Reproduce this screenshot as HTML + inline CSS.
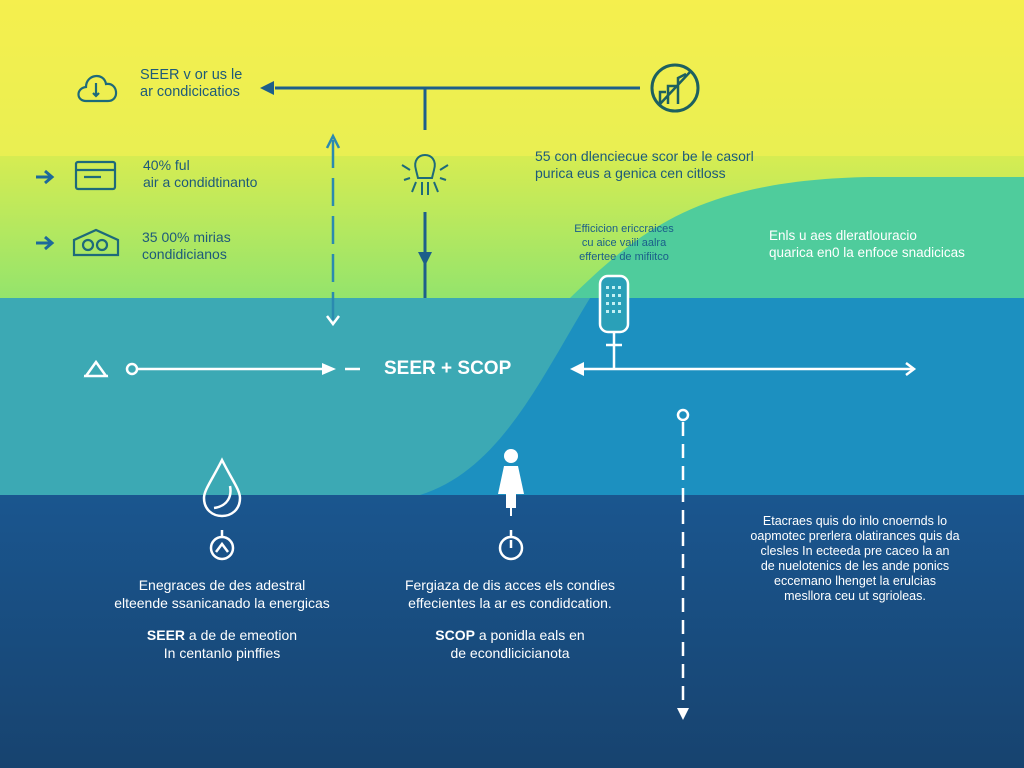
<!DOCTYPE html>
<html><head><meta charset="utf-8"><style>
body{margin:0;width:1024px;height:768px;overflow:hidden;font-family:"Liberation Sans",sans-serif;position:relative}
svg{position:absolute;left:0;top:0}
.t{position:absolute;font-size:14px;line-height:17px;white-space:nowrap}
.d{color:#1d5a7a}
.w{color:#fff}
.c{text-align:center}
</style></head><body>
<svg width="1024" height="768" viewBox="0 0 1024 768">
<defs>
<linearGradient id="g1" x1="0" y1="0" x2="0" y2="1"><stop offset="0" stop-color="#f5ef4e"/><stop offset="1" stop-color="#e9ef52"/></linearGradient>
<linearGradient id="g2" x1="0" y1="0" x2="0" y2="1"><stop offset="0" stop-color="#d6ec52"/><stop offset="1" stop-color="#94e46c"/></linearGradient>
<linearGradient id="g4" x1="0" y1="0" x2="0" y2="1"><stop offset="0" stop-color="#1a568f"/><stop offset="1" stop-color="#17436f"/></linearGradient>
</defs>
<rect width="1024" height="156" fill="url(#g1)"/>
<rect y="156" width="1024" height="142" fill="url(#g2)"/>
<path d="M570 298 C640 230 700 180 870 177 L1024 177 L1024 298 Z" fill="#4fcc9c"/>
<rect y="298" width="1024" height="197" fill="#1c90c0"/>
<path d="M0 298 L590 298 C540 380 500 470 420 495 L0 495 Z" fill="#3ca9b4"/>
<rect y="495" width="1024" height="273" fill="url(#g4)"/>
<!-- top connector -->
<g stroke="#1d5f8a" stroke-width="3" fill="none">
<line x1="275" y1="88" x2="640" y2="88"/>
<line x1="425" y1="88" x2="425" y2="130"/>
<line x1="425" y1="212" x2="425" y2="298"/>
</g>
<polygon points="260,88 274,81 274,95" fill="#1d5f8a"/>
<polygon points="418,252 432,252 425,266" fill="#1d5f8a"/>
<circle cx="675" cy="88" r="23" stroke="#1d6060" stroke-width="3" fill="none"/>
<path d="M660 104 L660 92 L666 92 M668 104 L668 86 L676 86 M678 104 L678 78 L686 74 M660 104 L690 72" stroke="#1d6060" stroke-width="2.5" fill="none"/>
<!-- dashed vertical -->
<line x1="333" y1="140" x2="333" y2="320" stroke="#2a8ab0" stroke-width="2.5" stroke-dasharray="28,10"/>
<polyline points="327,148 333,136 339,148" stroke="#2a8ab0" stroke-width="2.5" fill="none"/>
<polyline points="327,316 333,324 339,316" stroke="#fff" stroke-width="2.5" fill="none"/>
<!-- lamp icon -->
<g stroke="#1d6a7a" stroke-width="2" fill="none">
<path d="M416 170 C410 150 440 150 434 170 L432 178 L418 178Z"/>
<path d="M402 165 L410 170 M448 165 L440 170 M404 180 L410 178 M446 180 L440 178 M412 192 L416 182 M438 192 L434 182 M422 195 L422 182 M428 195 L428 182"/>
</g>
<!-- left icons -->
<g stroke="#1d6a7a" stroke-width="2.2" fill="none">
<path d="M86 101 C76 101 76 88 86 87 C86 74 104 72 106 84 C118 82 120 101 108 101Z"/>
<line x1="96" y1="83" x2="96" y2="96"/><polyline points="93,93 96,96 99,93"/>
<rect x="76" y="162" width="39" height="27" rx="2"/><line x1="76" y1="170" x2="115" y2="170"/><line x1="84" y1="177" x2="101" y2="177"/>
<path d="M74 255 L74 240 L96 230 L118 240 L118 255Z"/><circle cx="88" cy="245" r="5"/><circle cx="102" cy="245" r="5"/>
</g>
<g stroke="#1d6a9a" stroke-width="3" fill="none">
<path d="M36 177 L52 177 M45 171 L52 177 L45 183"/>
<path d="M36 243 L52 243 M45 237 L52 243 L45 249"/>
</g>
<!-- sensor -->
<rect x="600" y="276" width="28" height="56" rx="8" stroke="#fff" stroke-width="2.5" fill="#2aa0b8"/>
<g fill="#dff" opacity=".85"><rect x="606" y="286" width="3" height="3"/><rect x="612" y="286" width="3" height="3"/><rect x="618" y="286" width="3" height="3"/><rect x="606" y="294" width="3" height="3"/><rect x="612" y="294" width="3" height="3"/><rect x="618" y="294" width="3" height="3"/><rect x="606" y="302" width="3" height="3"/><rect x="612" y="302" width="3" height="3"/><rect x="618" y="302" width="3" height="3"/><rect x="606" y="310" width="3" height="3"/><rect x="612" y="310" width="3" height="3"/><rect x="618" y="310" width="3" height="3"/></g>
<g stroke="#fff" stroke-width="2.5" fill="none">
<line x1="614" y1="332" x2="614" y2="369"/><line x1="606" y1="345" x2="622" y2="345"/>
<line x1="574" y1="369" x2="914" y2="369"/>
<polyline points="906,363 914,369 906,375"/>
<line x1="138" y1="369" x2="325" y2="369"/><line x1="345" y1="369" x2="360" y2="369"/>
<circle cx="132" cy="369" r="5"/>
<path d="M86 376 L96 362 L106 376 Z M84 376 L108 376"/>
</g>
<polygon points="570,369 584,362 584,376" fill="#fff"/>
<polygon points="322,363 336,369 322,375" fill="#fff"/>
<!-- right dashed -->
<circle cx="683" cy="415" r="5" stroke="#fff" stroke-width="2.5" fill="none"/>
<line x1="683" y1="422" x2="683" y2="708" stroke="#fff" stroke-width="2.5" stroke-dasharray="14,8"/>
<polygon points="677,708 689,708 683,720" fill="#fff"/>
<!-- drop -->
<g stroke="#fff" stroke-width="2.5" fill="none">
<path d="M222 460 C212 480 204 490 204 498 C204 522 240 522 240 498 C240 490 232 480 222 460Z"/>
<path d="M214 508 C228 506 232 496 230 486"/>
<circle cx="222" cy="548" r="11"/><path d="M216 552 L222 544 L228 552"/><line x1="222" y1="530" x2="222" y2="537"/>
<circle cx="511" cy="548" r="11"/><line x1="511" y1="540" x2="511" y2="548"/><line x1="511" y1="530" x2="511" y2="537"/>
</g>
<circle cx="511" cy="456" r="7" fill="#fff"/>
<path d="M504 466 L518 466 L524 494 L516 494 L516 508 L506 508 L506 494 L498 494 Z" fill="#fff"/>
<line x1="511" y1="508" x2="511" y2="516" stroke="#fff" stroke-width="2"/>
</svg>
<div class="t d" style="left:140px;top:67px;font-size:14.5px">SEER v or us le<br>ar condicicatios</div>
<div class="t d" style="left:143px;top:157px">40% ful<br>air a condidtinanto</div>
<div class="t d" style="left:142px;top:229px">35 00% mirias<br>condidicianos</div>
<div class="t d" style="left:535px;top:148px">55 con dlenciecue scor be le casorl<br>purica eus a genica cen citloss</div>
<div class="t d c" style="left:560px;top:222px;font-size:11px;line-height:14px;width:128px;color:#1a5e8a">Efficicion ericcraices<br>cu aice vaili aalra<br>effertee de mifiitco</div>
<div class="t w" style="left:769px;top:227px;font-size:13.5px">Enls u aes dleratlouracio<br>quarica en0 la enfoce snadicicas</div>
<div class="t w" style="left:384px;top:358px;font-size:19px;font-weight:bold;line-height:22px">SEER + SCOP</div>
<div class="t w c" style="left:102px;top:576px;width:240px;line-height:18px">Enegraces de des adestral<br>elteende ssanicanado la energicas</div>
<div class="t w c" style="left:102px;top:626px;width:240px;line-height:18px"><b>SEER</b> a de de emeotion<br>In centanlo pinffies</div>
<div class="t w c" style="left:390px;top:576px;width:240px;line-height:18px">Fergiaza de dis acces els condies<br>effecientes la ar es condidcation.</div>
<div class="t w c" style="left:390px;top:626px;width:240px;line-height:18px"><b>SCOP</b> a ponidla eals en<br>de econdlicicianota</div>
<div class="t w c" style="left:720px;top:514px;width:270px;font-size:12.5px;line-height:15px">Etacraes quis do inlo cnoernds lo<br>oapmotec prerlera olatirances quis da<br>clesles In ecteeda pre caceo la an<br>de nuelotenics de les ande ponics<br>eccemano lhenget la erulcias<br>mesllora ceu ut sgrioleas.</div>
</body></html>
